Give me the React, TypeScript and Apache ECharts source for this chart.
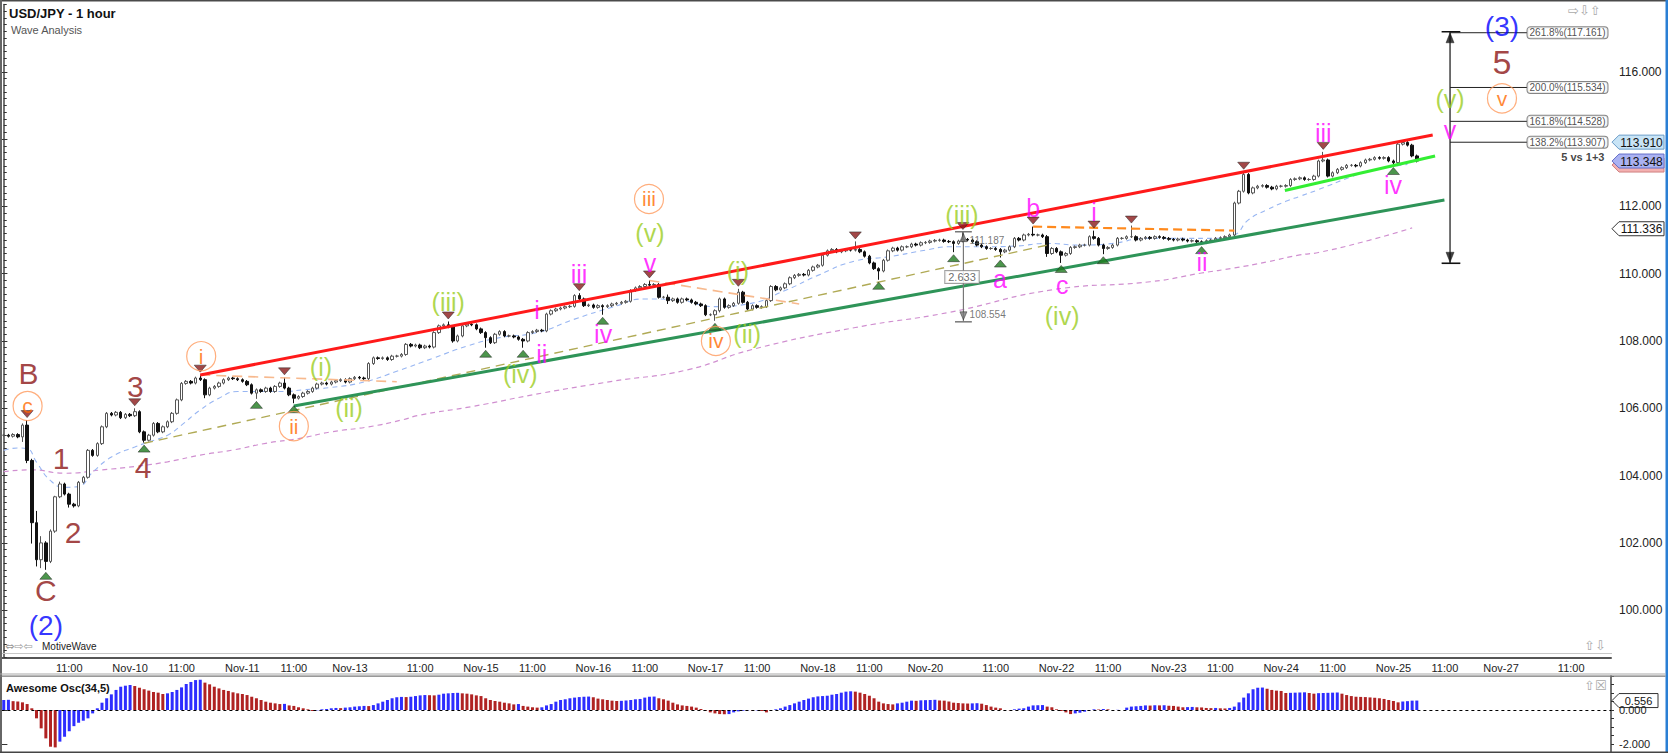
import { useEffect, useRef } from "react";
import * as echarts from "echarts";

const W = 1668;
const H = 753;
const FONT = "Arial, 'Liberation Sans', sans-serif";

// one slot per hourly bar (weekend hours are skipped), right part is empty future
const SLOT_COUNT = 344;
const TICK_SLOTS = [14, 27, 38, 51, 62, 74, 89, 102, 113, 126, 137, 150, 161, 174, 185, 197, 212, 225, 236, 249, 260, 273, 284, 297, 308, 320, 335];
const TICK_LABELS = [
  "11:00", "Nov-10", "11:00", "Nov-11", "11:00", "Nov-13", "11:00", "Nov-15", "11:00",
  "Nov-16", "11:00", "Nov-17", "11:00", "Nov-18", "11:00", "Nov-20", "11:00", "Nov-22",
  "11:00", "Nov-23", "11:00", "Nov-24", "11:00", "Nov-25", "11:00", "Nov-27", "11:00",
];
// price labels hidden behind the price tags
const HIDDEN_PRICE_LABELS = [114];

// USD/JPY hourly closes
const FIRST_OPEN = 105.2;
const CLOSES = [
  105.2, 105.17, 105.22, 105.15, 105.5, 104.45, 102.6, 101.5, 102.0, 101.45,
  102.35, 103.37, 103.75, 103.45, 103.15, 103.1, 103.8, 103.95, 104.75, 104.6,
  104.95, 105.45, 105.85, 105.8, 105.88, 105.72, 105.82, 105.78, 105.9, 105.3,
  105.05, 105.2, 105.55, 105.3, 105.45, 105.6, 105.85, 106.25, 106.74, 106.8,
  106.75, 106.9, 106.85, 106.4, 106.6, 106.65, 106.75, 106.85, 106.9, 106.88,
  106.85, 106.8, 106.7, 106.45, 106.55, 106.5, 106.6, 106.5, 106.65, 106.75,
  106.6, 106.4, 106.3, 106.35, 106.45, 106.5, 106.6, 106.72, 106.75, 106.72,
  106.78, 106.82, 106.85, 106.78, 106.88, 106.92, 106.9, 106.88, 107.33, 107.5,
  107.48, 107.5, 107.45, 107.55, 107.55, 107.6, 107.9, 107.85, 107.88, 107.8,
  107.85, 107.82, 108.25, 108.45, 108.48, 108.42, 108.0, 108.15, 108.45, 108.5,
  108.48, 108.36, 108.25, 108.1, 107.95, 108.2, 108.28, 108.15, 108.15, 108.12,
  108.05, 108.0, 108.25, 108.28, 108.32, 108.3, 108.8, 108.9, 108.95, 108.98,
  109.02, 109.03, 109.35, 109.25, 109.05, 109.07, 109.0, 109.05, 109.02, 109.05,
  109.1, 109.12, 109.15, 109.18, 109.5, 109.58, 109.62, 109.68, 109.66, 109.68,
  109.3, 109.3, 109.2, 109.25, 109.15, 109.25, 109.22, 109.15, 109.1, 109.05,
  108.78, 108.78, 108.9, 109.25, 109.0, 109.05, 109.12, 109.45, 109.15, 108.95,
  109.05, 109.0, 109.02, 109.2, 109.62, 109.52, 109.58, 109.7, 109.88, 109.95,
  109.98, 109.96, 110.1, 110.2, 110.25, 110.55, 110.68, 110.72, 110.65, 110.68,
  110.72, 110.7, 110.72, 110.65, 110.52, 110.32, 110.15, 110.08, 110.4, 110.68,
  110.76, 110.7, 110.8, 110.8, 110.88, 110.85, 110.92, 110.93, 110.97, 110.99,
  111.0, 110.96, 110.95, 110.9, 110.97, 111.02, 111.0, 110.95, 110.85, 110.8,
  110.75, 110.75, 110.72, 110.65, 110.7, 110.8, 111.05, 111.0, 111.15, 111.17,
  111.15, 111.15, 111.1, 110.6, 110.75, 110.65, 110.55, 110.6, 110.78, 110.8,
  110.85, 110.85, 111.1, 111.05, 110.85, 110.75, 110.78, 110.85, 111.05, 111.05,
  111.1, 111.1, 111.0, 111.05, 111.08, 111.05, 111.1, 111.08, 111.05, 111.02,
  111.0, 111.03, 111.0, 110.97, 110.98, 110.95, 110.92, 110.98, 111.0, 111.05,
  111.07, 111.1, 111.15, 112.1, 112.45, 112.95, 112.4, 112.55, 112.6, 112.62,
  112.57, 112.52, 112.6, 112.6, 112.62, 112.8, 112.82, 112.85, 112.8, 112.8,
  112.9, 113.35, 113.38, 112.9, 113.0, 113.1, 113.15, 113.22, 113.22, 113.2,
  113.3, 113.38, 113.4, 113.45, 113.43, 113.45, 113.35, 113.3, 113.85, 113.9,
  113.82, 113.5, 113.348,
];
// default shadow beyond the body; long shadows are listed below
const SHADOW = 0.04;
// swing highs / lows (marked by the triangles)
const PIVOT_HIGHS: [number, number][] = [
  [5, 105.65], [28, 106.0], [42, 107.0], [60, 106.92], [95, 108.58], [123, 109.42],
  [138, 109.8], [157, 109.55], [182, 110.96], [205, 111.24], [220, 111.4], [233, 111.28],
  [241, 111.43], [265, 113.03], [282, 113.62],
];
const PIVOT_LOWS: [number, number][] = [
  [9, 101.2], [30, 104.98], [54, 106.28], [62, 106.15], [103, 107.8], [111, 107.8],
  [128, 108.78], [152, 108.6], [187, 109.82], [203, 110.64], [213, 110.48], [226, 110.32],
  [235, 110.58], [256, 110.88], [297, 113.23],
];
const EXTRA_WICKS: [number, number | null, number | null][] = [
  [4, 105.55, 105.0], [5, null, 104.37], [6, 104.5, 101.98], [7, 102.95, 101.3],
  [8, 102.2, 101.25], [9, 102.05, null], [10, 102.4, 101.4], [11, 103.4, 102.3],
  [12, 103.82, null], [14, null, 103.05], [15, null, 103.05], [43, null, 106.3],
  [96, null, 107.95], [142, 109.38, 109.1], [153, null, 108.85], [223, 111.15, 110.5],
  [263, null, 111.1], [299, 113.91, null],
];

// Awesome Oscillator (34,5)
const AO = [
  0.59, 0.6, 0.52, 0.5, 0.45, 0.35, 0.1, -0.49, -1.08, -1.67,
  -2.16, -2.2, -1.86, -1.57, -1.25, -0.95, -0.75, -0.63, -0.49, -0.2,
  0.1, 0.43, 0.69, 0.92, 1.18, 1.37, 1.43, 1.47, 1.41, 1.31,
  1.22, 1.14, 1.06, 1.02, 0.94, 0.98, 1.06, 1.18, 1.33, 1.53,
  1.65, 1.76, 1.78, 1.61, 1.51, 1.37, 1.27, 1.18, 1.12, 1.04,
  0.98, 0.94, 0.88, 0.78, 0.69, 0.59, 0.49, 0.43, 0.39, 0.35,
  0.36, 0.27, 0.24, 0.16, 0.1, 0.04, -0.06, -0.02, 0.04, 0.06,
  0.1, 0.12, 0.11, 0.14, 0.16, 0.2, 0.22, 0.24, 0.23, 0.29,
  0.39, 0.49, 0.59, 0.69, 0.75, 0.77, 0.76, 0.78, 0.82, 0.86,
  0.88, 0.87, 0.86, 0.9, 0.96, 0.98, 1.0, 1.01, 0.98, 0.96,
  0.92, 0.86, 0.82, 0.69, 0.59, 0.53, 0.49, 0.43, 0.39, 0.33,
  0.35, 0.24, 0.2, 0.16, 0.14, 0.16, 0.27, 0.35, 0.49, 0.59,
  0.63, 0.69, 0.73, 0.76, 0.78, 0.79, 0.75, 0.67, 0.63, 0.59,
  0.55, 0.53, 0.54, 0.56, 0.59, 0.63, 0.65, 0.73, 0.78, 0.79,
  0.69, 0.63, 0.55, 0.43, 0.33, 0.27, 0.24, 0.2, 0.14, 0.06,
  -0.04, -0.14, -0.2, -0.24, -0.25, -0.24, -0.14, -0.08, -0.04, -0.02,
  -0.03, -0.02, -0.06, -0.14, 0.0, 0.04, 0.1, 0.2, 0.29, 0.39,
  0.49, 0.59, 0.67, 0.75, 0.8, 0.82, 0.84, 0.9, 0.94, 1.02,
  1.08, 1.1, 1.08, 1.02, 0.94, 0.84, 0.69, 0.49, 0.39, 0.35,
  0.33, 0.39, 0.43, 0.49, 0.55, 0.54, 0.57, 0.58, 0.59, 0.6,
  0.56, 0.55, 0.5, 0.43, 0.41, 0.39, 0.38, 0.39, 0.4, 0.37,
  0.29, 0.2, 0.14, 0.1, 0.0, -0.01, 0.04, 0.08, 0.1, 0.2,
  0.27, 0.28, 0.29, 0.2, 0.16, 0.04, -0.06, -0.14, -0.24, -0.2,
  -0.16, -0.1, -0.02, 0.04, 0.03, 0.06, 0.04, 0.0, 0.01, 0.0,
  0.14, 0.2, 0.22, 0.24, 0.27, 0.26, 0.28, 0.27, 0.28, 0.25,
  0.24, 0.2, 0.16, 0.17, 0.18, 0.16, 0.15, 0.12, 0.11, 0.12,
  0.1, 0.09, 0.12, 0.2, 0.45, 0.73, 0.98, 1.22, 1.31, 1.32,
  1.25, 1.18, 1.14, 1.12, 1.0, 1.01, 1.02, 1.03, 1.04, 1.0,
  0.96, 0.99, 1.0, 1.01, 1.02, 1.03, 0.96, 0.88, 0.82, 0.78,
  0.77, 0.76, 0.74, 0.72, 0.69, 0.65, 0.59, 0.53, 0.45, 0.5,
  0.52, 0.55, 0.556,
];

// moving averages, sampled along the curves [slot, price]
const FAST_MA: [number, number][] = [
  [0, 104.75], [3, 104.82], [5, 104.8], [7, 104.4], [10, 103.85], [13, 103.65], [16, 103.68],
  [19, 104.1], [23, 104.55], [28, 104.85], [31, 105.0], [35, 105.2], [38, 105.5], [42, 105.95],
  [46, 106.3], [50, 106.5], [55, 106.5], [60, 106.5], [64, 106.55], [70, 106.62], [77, 106.78],
  [84, 107.1], [92, 107.5], [99, 107.85], [106, 108.1], [114, 108.25], [122, 108.65], [130, 109.0],
  [137, 109.25], [144, 109.22], [152, 109.02], [159, 109.1], [167, 109.5], [174, 109.95],
  [182, 110.38], [189, 110.5], [197, 110.7], [202, 110.8], [209, 110.8], [216, 110.82],
  [223, 110.9], [230, 110.85], [237, 110.9], [244, 111.05], [252, 111.05], [259, 111.05],
  [263, 111.15], [266, 111.6], [270, 111.9], [274, 112.15], [277, 112.3], [281, 112.5],
  [288, 112.88], [292, 113.05], [300, 113.25],
];
const SLOW_MA: [number, number][] = [
  [0, 104.12], [6, 104.17], [13, 104.07], [21, 104.17], [28, 104.27], [35, 104.41], [42, 104.61],
  [49, 104.76], [56, 104.96], [63, 105.1], [70, 105.3], [78, 105.45], [85, 105.65], [89, 105.8],
  [100, 106.05], [115, 106.45], [130, 106.8], [146, 107.14], [160, 107.75], [182, 108.4],
  [202, 108.85], [224, 109.52], [245, 109.76], [256, 110.02], [263, 110.17], [270, 110.35],
  [277, 110.56], [281, 110.63], [292, 111.0], [301, 111.36],
];

// drawn lines [slot, price]
const UPPER_CHANNEL: [number, number][] = [[42, 106.99], [305.4, 114.12]];
const LOWER_CHANNEL: [number, number][] = [[62, 106.07], [307.9, 112.19]];
const WAVE_IV_LINE: [number, number][] = [[273.8, 112.47], [305.9, 113.5]];
const BASE_LINE: [number, number][] = [[30, 104.96], [223, 110.85]];
const FLAT_I: [number, number][] = [[42, 106.99], [84, 106.79]];
const FLAT_V: [number, number][] = [[138, 109.8], [170, 109.1]];
const FLAT_B: [number, number][] = [[220, 111.4], [263, 111.28]];

// measure tool (middle) and fibonacci tool (right)
const MEASURE_SLOT = 205.1;
const MEASURE_TOP = 111.25;
const MEASURE_BOTTOM = 108.57;
const FIB_SLOT = 309.1;
const FIB_TOP = 117.19;
const FIB_BOTTOM = 110.31;
const FIB_LABEL_SLOT = 325.55;
const FIB_LEVELS: [string, number][] = [
  ["261.8%", 117.161], ["200.0%", 115.534], ["161.8%", 114.528], ["138.2%", 113.907],
];

// wave labels [text, slot, price]
const MAROON_LABELS: [string, number, number][] = [
  ["B", 5.3, 107.02], ["1", 12.25, 104.52], ["2", 14.8, 102.32], ["C", 9.0, 100.6],
  ["3", 28.1, 106.66], ["4", 29.8, 104.23],
];
const MAROON_BIG: [string, number, number][] = [["5", 320.2, 116.29]];
const BLUE_LABELS: [string, number, number][] = [["(2)", 9.0, 99.55], ["(3)", 320.2, 117.36]];
const ORANGE_CIRCLES: [string, number, number][] = [
  ["c", 5.1, 106.07], ["i", 42.2, 107.55], ["ii", 62.0, 105.47], ["iii", 137.9, 112.22],
  ["iv", 152.2, 108.0], ["v", 320.2, 115.21],
];
const GREEN_LABELS: [string, number, number][] = [
  ["(i)", 67.8, 107.23], ["(ii)", 73.8, 106.01], ["(iii)", 95.0, 109.16], ["(iv)", 110.4, 107.02],
  ["(v)", 138.1, 111.21], ["(i)", 156.9, 110.08], ["(ii)", 158.9, 108.21], ["(iii)", 204.8, 111.74],
  ["(iv)", 226.2, 108.74], ["(v)", 309.1, 115.2],
];
const MAGENTA_LABELS: [string, number, number][] = [
  ["i", 114.0, 108.92], ["ii", 115.0, 107.62], ["iii", 122.95, 109.99], ["iv", 128.1, 108.21],
  ["v", 138.1, 110.32], ["a", 212.9, 109.84], ["b", 220.0, 111.95], ["c", 226.2, 109.66],
  ["i", 233.0, 111.83], ["ii", 256.1, 110.35], ["iii", 282.0, 114.18], ["iv", 296.9, 112.64],
  ["v", 309.1, 114.27],
];

const GRID_LEFT = 1.4;
const GRID_WIDTH = 1609.6;

function buildCandles() {
  const highs = new Map<number, number>();
  const lows = new Map<number, number>();
  EXTRA_WICKS.forEach(([s, h, l]) => {
    if (h != null) highs.set(s, h);
    if (l != null) lows.set(s, l);
  });
  PIVOT_HIGHS.forEach(([s, h]) => highs.set(s, h));
  PIVOT_LOWS.forEach(([s, l]) => lows.set(s, l));
  let open = FIRST_OPEN;
  return CLOSES.map((close, i) => {
    const high = highs.get(i) ?? Math.max(open, close) + SHADOW;
    const low = lows.get(i) ?? Math.min(open, close) - SHADOW;
    const row = [open, close, low, high];
    open = close;
    return row;
  });
}

const seg = (data: [number, number][], color: string, width: number, type: any = "solid", z = 4, smooth = false) => ({
  type: "line",
  xAxisIndex: 1,
  yAxisIndex: 0,
  data,
  smooth,
  symbol: "none",
  silent: true,
  z,
  lineStyle: { color, width, type },
});

const textSeries = (items: [string, number, number][], color: string, fontSize: number, extra: any = {}) => ({
  type: "scatter",
  xAxisIndex: 1,
  yAxisIndex: 0,
  symbolSize: 1,
  silent: true,
  z: 8,
  itemStyle: { color: "rgba(0,0,0,0)" },
  label: {
    show: true,
    position: "inside",
    formatter: "{b}",
    color,
    fontSize,
    fontFamily: FONT,
    ...extra,
  },
  data: items.map(([name, x, y]) => ({ name, value: [x, y] })),
});

const triangles = (data: [number, number][], down: boolean, color: string, size: number[], offset: number, z = 7) => ({
  type: "scatter",
  xAxisIndex: 1,
  yAxisIndex: 0,
  symbol: "triangle",
  symbolSize: size,
  symbolRotate: down ? 180 : 0,
  symbolOffset: [0, offset],
  silent: true,
  z,
  itemStyle: { color, borderColor: "#222", borderWidth: 0.6 },
  data,
});

function buildOption() {
  const tickSet = new Set(TICK_SLOTS);
  const tickName = new Map(TICK_SLOTS.map((s, i) => [s, TICK_LABELS[i]]));
  const categories = Array.from({ length: SLOT_COUNT }, (_, i) => String(i));
  const tickInterval = (index: number) => tickSet.has(index);

  const series: any[] = [
    {
      type: "candlestick",
      xAxisIndex: 0,
      yAxisIndex: 0,
      barWidth: 3,
      z: 3,
      data: buildCandles(),
      itemStyle: { color: "#ffffff", color0: "#111111", borderColor: "#555555", borderColor0: "#111111", borderWidth: 1 },
    },
    seg(SLOW_MA, "#d08fd0", 1.2, [5, 4], 2, true),
    seg(FAST_MA, "#98b6f2", 1.1, [5, 4], 2, true),
    seg(BASE_LINE, "#b0aa55", 1.4, [9, 6], 4),
    seg(FLAT_I, "#f7b98e", 1.6, [10, 6], 4),
    seg(FLAT_V, "#f7b98e", 1.6, [10, 6], 4),
    seg(FLAT_B, "#ff8a1e", 2.2, [9, 5], 4),
    seg(UPPER_CHANNEL, "#ff1a1a", 3, "solid", 5),
    seg(LOWER_CHANNEL, "#2e9458", 3, "solid", 5),
    seg(WAVE_IV_LINE, "#33ee33", 3, "solid", 5),
    // measure tool
    seg([[MEASURE_SLOT, MEASURE_TOP], [MEASURE_SLOT, MEASURE_BOTTOM]], "#777777", 1.2, "solid", 5),
    seg([[MEASURE_SLOT - 1.8, MEASURE_TOP], [MEASURE_SLOT + 1.8, MEASURE_TOP]], "#777777", 1.5, "solid", 5),
    seg([[MEASURE_SLOT - 1.8, MEASURE_BOTTOM], [MEASURE_SLOT + 1.8, MEASURE_BOTTOM]], "#777777", 1.5, "solid", 5),
    triangles([[MEASURE_SLOT, MEASURE_TOP]], false, "#777777", [7, 8], 6, 6),
    triangles([[MEASURE_SLOT, MEASURE_BOTTOM]], true, "#777777", [7, 8], -6, 6),
    // fibonacci tool
    seg([[FIB_SLOT, FIB_TOP], [FIB_SLOT, FIB_BOTTOM]], "#111111", 1.2, "solid", 5),
    seg([[FIB_SLOT - 1.8, FIB_TOP], [FIB_SLOT + 2.2, FIB_TOP]], "#111111", 1.6, "solid", 5),
    seg([[FIB_SLOT - 1.8, FIB_BOTTOM], [FIB_SLOT + 2.2, FIB_BOTTOM]], "#111111", 1.6, "solid", 5),
    triangles([[FIB_SLOT, FIB_TOP]], false, "#111111", [8, 10], 6, 6),
    triangles([[FIB_SLOT, FIB_BOTTOM]], true, "#111111", [8, 10], -6, 6),
    ...FIB_LEVELS.map(([, v]) => seg([[FIB_SLOT, v], [FIB_LABEL_SLOT, v]], "#222222", 1, "solid", 5)),
    {
      type: "scatter",
      xAxisIndex: 1,
      yAxisIndex: 0,
      symbolSize: 1,
      silent: true,
      z: 8,
      itemStyle: { color: "rgba(0,0,0,0)" },
      label: {
        show: true,
        position: "right",
        distance: 0,
        formatter: "{b}",
        fontSize: 10,
        fontFamily: FONT,
        color: "#222",
        backgroundColor: "#ffffff",
        borderColor: "#666",
        borderWidth: 1,
        borderRadius: 3,
        padding: [1, 2, 0, 2],
      },
      data: FIB_LEVELS.map(([p, v]) => ({ name: `${p}(${v.toFixed(3)})`, value: [FIB_LABEL_SLOT, v] })),
    },
    textSeries([["5 vs 1+3", 342.2, 113.48]], "#111", 11, { position: "left", distance: 0, fontWeight: "bold" }),
    textSeries([["111.187", 206.1, 111.0], ["108.554", 206.1, 108.8]], "#555", 10, { position: "right", distance: 1 }),
    textSeries([["2.633", 204.8, 109.9]], "#444", 11, {
      backgroundColor: "#fff", borderColor: "#888", borderWidth: 1, padding: [1, 3, 0, 3],
    }),
    // swing markers
    triangles(PIVOT_HIGHS, true, "#8b1a1a", [12, 7], -6),
    triangles(PIVOT_LOWS, false, "#1f7a1f", [12, 7], 6),
    // circled orange labels
    {
      type: "scatter",
      xAxisIndex: 1,
      yAxisIndex: 0,
      symbol: "circle",
      symbolSize: 29,
      silent: true,
      z: 8,
      itemStyle: { color: "rgba(255,255,255,0)", borderColor: "#ff9a5c", borderWidth: 1.2 },
      label: { show: true, position: "inside", formatter: "{b}", color: "#ff6a00", fontSize: 21, fontFamily: FONT },
      data: ORANGE_CIRCLES.map(([name, x, y]) => ({ name, value: [x, y] })),
    },
    textSeries(MAROON_LABELS, "#8b1414", 30),
    textSeries(MAROON_BIG, "#8b1414", 34),
    textSeries(BLUE_LABELS, "#0000ff", 28),
    textSeries(GREEN_LABELS, "#9acd1e", 25),
    textSeries(MAGENTA_LABELS, "#ff00ff", 25),
    // oscillator
    {
      type: "bar",
      xAxisIndex: 2,
      yAxisIndex: 1,
      barWidth: 3,
      silent: true,
      data: AO.map((v, i) => ({
        value: v,
        itemStyle: { color: i === 0 || v > AO[i - 1] ? "#2d2dff" : "#b02222" },
      })),
      markLine: {
        silent: true,
        symbol: ["none", "none"],
        label: { show: false },
        lineStyle: { color: "#000", width: 1, type: [3, 3] },
        data: [{ yAxis: 0 }],
      },
    },
  ];

  return {
    animation: false,
    backgroundColor: "#ffffff",
    grid: [
      { left: GRID_LEFT, top: 4.5, width: GRID_WIDTH, height: 652.8 },
      { left: GRID_LEFT, top: 676, width: GRID_WIDTH, height: 76.5 },
      { left: GRID_LEFT, top: 71.8, width: GRID_WIDTH, height: 538.4 },
      { left: GRID_LEFT, top: 710, width: GRID_WIDTH, height: 34 },
    ],
    xAxis: [
      {
        type: "category",
        gridIndex: 0,
        data: categories,
        boundaryGap: true,
        axisLine: { lineStyle: { color: "#555", width: 2 } },
        axisTick: { inside: true, length: 5, alignWithLabel: true, interval: tickInterval, lineStyle: { color: "#333" } },
        axisLabel: {
          interval: tickInterval,
          formatter: (_v: string, index: number) => tickName.get(index) ?? "",
          fontSize: 11,
          fontFamily: FONT,
          color: "#222",
          margin: 5,
        },
        splitLine: { show: false },
      },
      { type: "value", gridIndex: 0, min: -0.5, max: SLOT_COUNT - 0.5, show: false },
      { type: "category", gridIndex: 1, data: categories, boundaryGap: true, show: false },
      { type: "value", gridIndex: 2, min: 0, max: 1, show: false },
      { type: "value", gridIndex: 3, min: 0, max: 1, show: false },
    ],
    yAxis: [
      {
        type: "value",
        gridIndex: 0,
        position: "right",
        min: 98.6,
        max: 118,
        interval: 0.2,
        axisLine: { show: true, lineStyle: { color: "#444", width: 1.5 } },
        axisTick: { show: true, length: 3, lineStyle: { color: "#333" } },
        axisLabel: { show: false },
        splitLine: { show: false },
      },
      {
        type: "value",
        gridIndex: 1,
        position: "right",
        min: -2.5,
        max: 2,
        interval: 0.5,
        axisLine: { show: true, lineStyle: { color: "#444", width: 1.5 } },
        axisTick: { show: true, length: 3, lineStyle: { color: "#333" } },
        axisLabel: { show: false },
        splitLine: { show: false },
      },
      {
        type: "value",
        gridIndex: 2,
        position: "right",
        min: 100,
        max: 116,
        interval: 2,
        axisLine: { show: false },
        axisTick: { show: true, length: 6, lineStyle: { color: "#333" } },
        axisLabel: {
          formatter: (v: number) => (HIDDEN_PRICE_LABELS.includes(v) ? "" : v.toFixed(3)),
          fontSize: 12,
          fontFamily: FONT,
          color: "#222",
          margin: 8,
        },
        splitLine: { show: false },
      },
      {
        type: "value",
        gridIndex: 3,
        position: "right",
        min: -2,
        max: 0,
        interval: 2,
        axisLine: { show: false },
        axisTick: { show: true, length: 6, lineStyle: { color: "#333" } },
        axisLabel: { formatter: (v: number) => v.toFixed(3), fontSize: 11, fontFamily: FONT, color: "#222", margin: 8 },
        splitLine: { show: false },
      },
    ],
    series,
  };
}

function buildGraphic(chart: echarts.ECharts) {
  const py = (v: number, axis: number) => chart.convertToPixel({ yAxisIndex: axis }, v) as number;
  const tag = (value: number, axis: number, text: string, fill: string, stroke: string, w: number, fs: number, dy = 0) => {
    const y = py(value, axis) + dy;
    return {
      type: "group",
      z: 100,
      children: [
        {
          type: "polygon",
          shape: { points: [[1612, y], [1619, y - 7], [1612 + w, y - 7], [1612 + w, y + 7], [1619, y + 7]] },
          style: { fill, stroke, lineWidth: 1 },
        },
        {
          type: "text",
          x: 1619 + (w - 7) / 2,
          y: y + 0.5,
          style: { text, fontSize: fs, fontFamily: FONT, fill: "#111", align: "center", verticalAlign: "middle" },
        },
      ],
    };
  };
  const txt = (x: number, y: number, text: string, fontSize: number, fill: string, extra: any = {}) => ({
    type: "text",
    x,
    y,
    z: 100,
    style: { text, fontSize, fontFamily: FONT, fill, verticalAlign: "middle", ...extra },
  });
  const rect = (x: number, y: number, w: number, h: number, fill: string) => ({
    type: "rect",
    z: 90,
    shape: { x, y, width: w, height: h },
    style: { fill },
  });
  return [
    rect(0, 0, W, 1.5, "#4a4a4a"),
    rect(0, 0, 2, H, "#666666"),
    rect(W - 2.5, 0, 2.5, H, "#2a7fd4"),
    rect(0, H - 1.5, W, 1.5, "#444444"),
    rect(2, 653, 1610, 1, "#c8c8c8"),
    rect(0, 673.5, W - 2.5, 1, "#aaaaaa"),
    rect(0, 675.5, W - 2.5, 1.2, "#777777"),
    txt(9, 13, "USD/JPY - 1 hour", 13, "#111", { fontWeight: "bold" }),
    txt(11, 30, "Wave Analysis", 11, "#555"),
    txt(5, 646, "⇔⇨⇦", 11, "#999", { fontFamily: "DejaVu Sans" }),
    txt(42, 646, "MotiveWave", 10, "#222"),
    txt(1568, 10, "⇨⇩⇧", 13, "#aaa", { fontFamily: "DejaVu Sans" }),
    txt(1584, 645, "⇧⇩", 13, "#aaa", { fontFamily: "DejaVu Sans" }),
    txt(1584, 685, "⇧☒", 13, "#aaa", { fontFamily: "DejaVu Sans" }),
    txt(6, 688, "Awesome Osc(34,5)", 11, "#111", { fontWeight: "bold" }),
    tag(113.348, 0, "", "#f3b0b0", "#d08080", 52, 12, 4),
    tag(113.91, 0, "113.910", "#c8e4f6", "#6a9cc8", 52, 12),
    tag(113.348, 0, "113.348", "#aab2f2", "#6670c8", 52, 12),
    tag(111.336, 0, "111.336", "#ffffff", "#333333", 52, 12),
    tag(0.556, 1, "0.556", "#ffffff", "#333333", 46, 11),
  ];
}

export default function App() {
  const ref = useRef<HTMLDivElement>(null);

  useEffect(() => {
    if (!ref.current) return;
    const chart = echarts.init(ref.current, null, { renderer: "svg" });
    chart.setOption(buildOption() as any);
    chart.setOption({ graphic: buildGraphic(chart) } as any);
    return () => chart.dispose();
  }, []);

  return (
    <div
      ref={ref}
      style={{ position: "fixed", left: 0, top: 0, width: W, height: H, background: "#ffffff" }}
    />
  );
}
